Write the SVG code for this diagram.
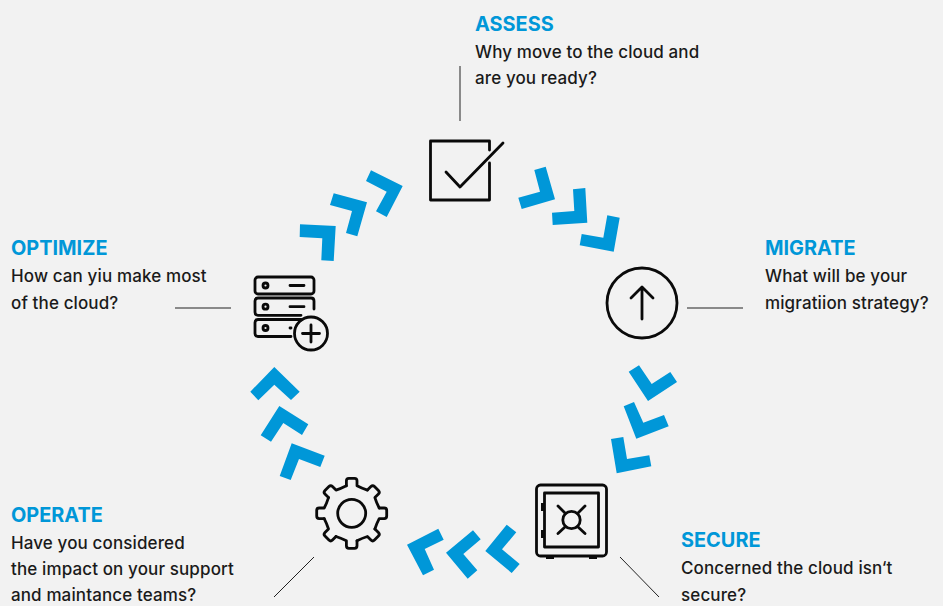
<svg xmlns="http://www.w3.org/2000/svg" xmlns:xlink="http://www.w3.org/1999/xlink" width="943" height="606" viewBox="0 0 943 606">
<style>
.h{font:700 19.9px Inter,"Liberation Sans",sans-serif;fill:#0097d8}
.t{font:500 17px Inter,"Liberation Sans",sans-serif;letter-spacing:.12px;fill:#1a1a1a}
.c{fill:#0097d8}
.i{fill:none;stroke:#0a0a0a;stroke-width:2.8;stroke-linecap:round;stroke-linejoin:round}
.l{fill:none;stroke:#222;stroke-width:1}
</style>
<defs>
<path id="s" d="M-5.300-27.500V-32.500Q-5.300-35-2.800-35H2.800Q5.300-35 5.300-32.500V-27.500Q10-25 15.700-23.200"/>
</defs>
<rect width="943" height="606" fill="#f2f2f2"/>
<g id="connectors">
<path class="l" d="M460 66V121M687 308H743M620 557L659 597M314 557L274 597M175 308H231"/>
<g id="chevrons">
<polygon class="c" points="534.300,170 545.700,166.700 555,199.300 521.700,209 518.300,197.700 540,191.700"/>
<polygon class="c" points="573,189.300 585.300,188 587.300,222.700 552.700,225 552,212.700 574.300,211"/>
<polygon class="c" points="607.300,215.300 619.700,217.700 613.700,251.700 579.700,245.300 581.700,234 603.300,237.700"/>
<polygon class="c" points="639,365.300 651.700,384 670.300,372 677,382 648,401 628.700,371.700"/>
<polygon class="c" points="634,402 643.300,422.700 664,415 668.700,426.300 636.300,438.700 623.700,406.300"/>
<polygon class="c" points="623.300,437 627,459 649.300,455.300 651.300,466.300 616.700,473.300 611,439"/>
<polygon class="c" points="506.700,524.700 516.300,532.300 502,549.300 519.700,564 511.700,573 485.300,551"/>
<polygon class="c" points="473,530.300 480.700,539.300 463.300,554 477.300,570.300 467.700,578.700 446,552.700"/>
<polygon class="c" points="438.300,528.700 443.700,539.700 424.700,549 434,569.700 423,575.300 407,544.700"/>
<polygon class="c" points="291.700,443.300 324.700,455.700 320.300,467 299,459 290.700,480 279.700,476"/>
<polygon class="c" points="279.300,406 308.300,424.300 302,435 283.300,423 271,441.700 260.700,435.300"/>
<polygon class="c" points="274.300,367 299.700,391.700 291,400 274.300,384.700 258.300,400.300 250.300,391.700"/>
<polygon class="c" points="300,224.300 335.700,226 333.700,261 321.300,260.300 322.300,238.300 299.700,237"/>
<polygon class="c" points="333.700,193.300 367,202.300 357.300,236.300 346,233 352,211 330,205"/>
<polygon class="c" points="371,170.300 402.700,186 386.700,217 376,211.300 386.700,191.700 366,181"/>
</g>
</g>
<g id="assess">
<text class="h" x="475" y="31">ASSESS</text>
<text class="t" x="475" y="58">Why move to the cloud and</text>
<text class="t" x="475" y="84">are you ready?</text>
<path class="i" d="M489.500 150V141H430.500V200H489.500V163M446 172L460 187L503 143"/>
</g>
<g id="migrate">
<text class="h" x="765" y="255">MIGRATE</text>
<text class="t" x="765" y="282">What will be your</text>
<text class="t" x="765" y="309">migratiion strategy?</text>
<circle class="i" cx="642" cy="303" r="35"/>
<path class="i" d="M642 319V288M631 298L642 287L653 298"/>
</g>
<g id="secure">
<text class="h" x="681" y="547">SECURE</text>
<text class="t" x="681" y="574">Concerned the cloud isn‘t</text>
<text class="t" x="681" y="601">secure?</text>
<rect class="i" x="536.500" y="485" width="70" height="71" rx="4"/>
<rect class="i" x="544.500" y="493" width="54" height="54"/>
<circle class="i" cx="571.500" cy="520" r="8.700"/>
<path class="i" d="M558 506L565.500 513.500M585 506L577.500 513.500M558 533.500L565.500 526.500M585 533.500L577.500 526.500"/>
<path d="M541 503h3v8h-3zM541 530h3v8h-3zM546 556h8v3h-8zM589 556h8v3h-8z" fill="#0a0a0a"/>
</g>
<g id="operate">
<text class="h" x="11" y="522">OPERATE</text>
<text class="t" x="11" y="549">Have you considered</text>
<text class="t" x="11" y="575">the impact on your support</text>
<text class="t" x="11" y="601">and maintance teams?</text>
<g class="i" transform="translate(351.700 513.300)">
<use xlink:href="#s" href="#s"/>
<use xlink:href="#s" href="#s" transform="rotate(45)"/>
<use xlink:href="#s" href="#s" transform="rotate(90)"/>
<use xlink:href="#s" href="#s" transform="rotate(135)"/>
<use xlink:href="#s" href="#s" transform="rotate(180)"/>
<use xlink:href="#s" href="#s" transform="rotate(225)"/>
<use xlink:href="#s" href="#s" transform="rotate(270)"/>
<use xlink:href="#s" href="#s" transform="rotate(315)"/>
<circle r="14"/>
</g>
</g>
<g id="optimize">
<text class="h" x="11" y="255">OPTIMIZE</text>
<text class="t" x="11" y="282">How can yiu make most</text>
<text class="t" x="11" y="309">of the cloud?</text>
<rect class="i" x="255" y="277" width="59" height="17" rx="3"/>
<path class="i" d="M301 315.300H258Q255 315.300 255 312.300V301Q255 298 258 298H311Q314 298 314 301V309M291 336.500H258Q255 336.500 255 333.500V322.500Q255 319.500 258 319.500H301"/>
<circle class="i" cx="265.500" cy="285.500" r="2.500"/>
<circle class="i" cx="265.500" cy="306.700" r="2.500"/>
<circle class="i" cx="265.500" cy="328" r="2.500"/>
<path class="i" d="M290 285.500H304M290 306.700H304M290 328H291"/>
<circle class="i" cx="311" cy="333.500" r="16.500"/>
<path class="i" d="M311 325V342M302.500 333.500H319.500"/>
</g>
</svg>
